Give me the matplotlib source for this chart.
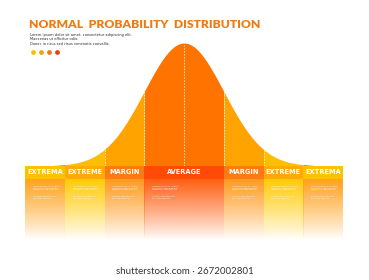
import numpy as np
import matplotlib.pyplot as plt
from matplotlib.colors import to_rgb

# sections of the bell curve, in standard deviations
labels = ["EXTREMA", "EXTREME", "MARGIN", "AVERAGE", "MARGIN", "EXTREME", "EXTREMA"]
edges = [-4, -3, -2, -1, 1, 2, 3, 4]
head_colors = ["#FAC300", "#FFA90A", "#FF7A12", "#FF4A08", "#FF7A12", "#FFA90A", "#FAC300"]
body_colors = ["#FFA21C", "#FFCB05", "#FF9A1E", "#FF5F12", "#FF9A1E", "#FFCB05", "#FFA21C"]
curve_colors = ["#E2501C", "#FDBE00", "#FFA300", "#FF7300", "#FFA300", "#FDBE00", "#E2501C"]
dashes_at = [-2, -1, 0, 1, 2]
mu, sigma = 0.0, 1.0

sub_lines = ["Lorem ipsum dolor sit amet, consectetur adipiscing elit.",
             "Maecenas ut efficitur odio.",
             "Donec in risus sed risus venenatis convallis."]
dot_colors = ["#F8C000", "#F4A010", "#F07818", "#E4441A"]

W, H = 369, 280
fig = plt.figure(figsize=(W / 100, H / 100), dpi=100)
fig.patch.set_facecolor("white")

# full-figure axes in pixel units for the free text
bg = fig.add_axes([0, 0, 1, 1])
bg.set_xlim(0, W)
bg.set_ylim(H, 0)
bg.axis("off")

# chart axes: x in sigma, y in density; 123 px per peak height
px = 0.3989 / 123
ax = fig.add_axes([25 / W, (H - 242) / H, 318 / W, 202 / H])
ax.set_xlim(-4, 4)
ax.set_ylim(-76 * px, 126 * px)
ax.axis("off")

pdf = lambda x: np.exp(-0.5 * ((x - mu) / sigma) ** 2) / (sigma * np.sqrt(2 * np.pi))

for i in range(len(labels)):
    x = np.linspace(edges[i], edges[i + 1], 100)
    ax.fill_between(x, 0, pdf(x), color=curve_colors[i], lw=0, zorder=2)
for d in dashes_at:
    ax.plot([d, d], [0, pdf(d)], color="white", lw=0.6, ls=(0, (2, 1.5)), alpha=0.8, zorder=3)

head_h = 13 * px
body_bot = -74 * px
t = np.linspace(0, 1, 100)[:, None]
alpha = np.clip(1 - t, 0, 1) ** 0.9
for i, lab in enumerate(labels):
    x0, x1 = edges[i], edges[i + 1]
    ax.add_patch(plt.Rectangle((x0, -head_h), x1 - x0, head_h, color=head_colors[i], lw=0, zorder=4))
    ax.text((x0 + x1) / 2, -head_h / 2, lab, color="white", fontsize=4.8, fontweight="bold",
            ha="center", va="center", zorder=5)
    rgba = np.zeros((100, 1, 4))
    rgba[..., :3] = to_rgb(body_colors[i])
    rgba[..., 3] = alpha
    ax.imshow(rgba, extent=(x0, x1, body_bot, -head_h), aspect="auto", zorder=1, interpolation="bilinear")
    # tiny placeholder text inside each column
    ax.text(x0 + 0.2, -head_h - 7 * px, "Lorem ipsum dolor sit amet,\nconsectetur adipiscing elit.\nMaecenas ut efficitur odio.",
            color="white", fontsize=1.4, va="top", ha="left", zorder=5, linespacing=1.3)
    ax.text(x0 + 0.2, -head_h - 17 * px, "Donec in risus sed risus\nvenenatis convallis.",
            color="white", fontsize=1.4, va="top", ha="left", zorder=5, linespacing=1.3)

bg.text(29, 25, "NORMAL  PROBABILITY  DISTRIBUTION", color="#F07A12", fontsize=8.7,
        fontweight="heavy", family="Lato", ha="left", va="center")
for k, line in enumerate(sub_lines):
    bg.text(30, 35 + k * 4.3, line, color="#2a2a2a", fontsize=2.6, ha="left", va="center")
for k, c in enumerate(dot_colors):
    bg.scatter(33 + 8 * k, 52, s=12, color=c, lw=0)

bg.text(184.5, 271, "shutterstock.com · 2672002801", color="#333333", fontsize=7,
        family="Lato", ha="center", va="center")

fig.savefig("out.png", dpi=100)
